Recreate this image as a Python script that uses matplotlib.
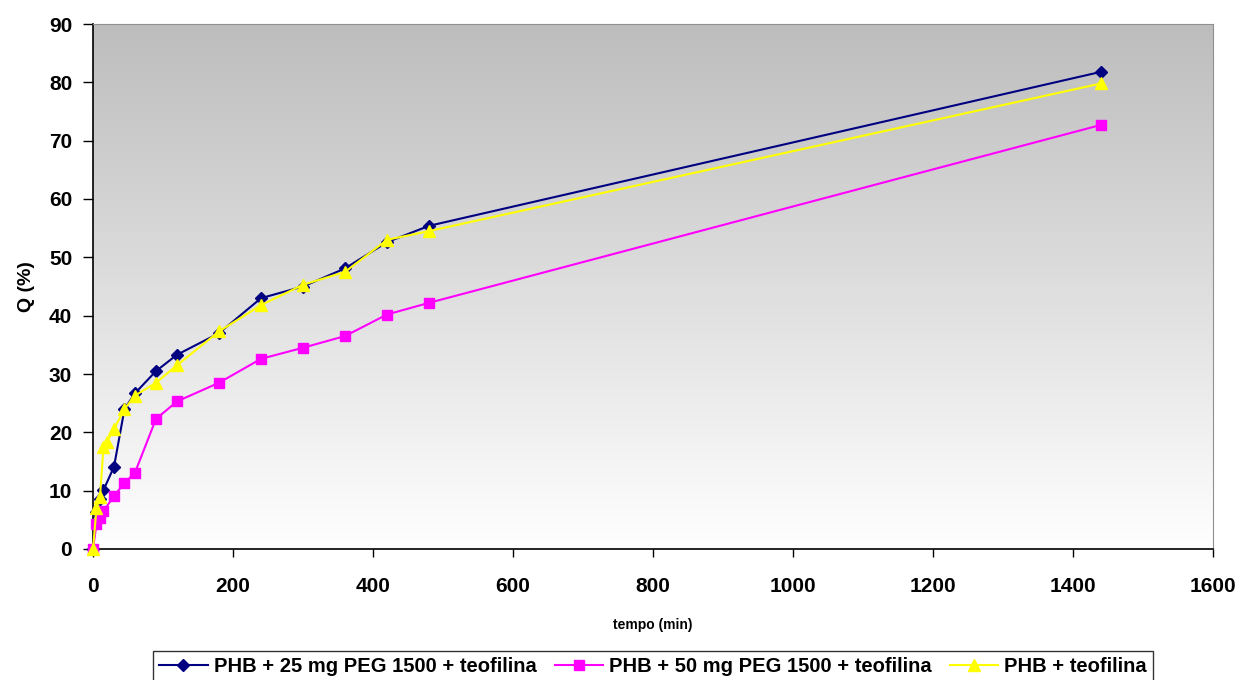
import matplotlib
matplotlib.use("Agg")
import matplotlib.pyplot as plt
import numpy as np

plt.rcParams["font.family"] = ["Liberation Sans", "DejaVu Sans"]

# data
tBlue = [0, 5, 10, 15, 30, 45, 60, 90, 120, 180, 240, 300, 360, 420, 480, 1440]
qBlue = [0, 6.4, 8.6, 10.1, 14.1, 24.0, 26.7, 30.5, 33.3, 37.0, 43.0, 45.0, 48.1, 52.6, 55.4, 81.8]

tPink = [0, 5, 10, 15, 30, 45, 60, 90, 120, 180, 240, 300, 360, 420, 480, 1440]
qPink = [0, 4.3, 5.3, 6.5, 9.1, 11.3, 13.1, 22.3, 25.3, 28.5, 32.6, 34.5, 36.5, 40.2, 42.2, 72.7]

tYellow = [0, 5, 10, 15, 20, 30, 45, 60, 90, 120, 180, 240, 300, 360, 420, 480, 1440]
qYellow = [0, 7.0, 9.0, 17.5, 18.4, 20.6, 24.0, 26.3, 28.5, 31.5, 37.3, 41.8, 45.3, 47.5, 53.0, 54.5, 79.8]

labels = ["PHB + 25 mg PEG 1500 + teofilina",
          "PHB + 50 mg PEG 1500 + teofilina",
          "PHB + teofilina"]

fig = plt.figure(figsize=(12.41, 6.8), dpi=100)
ax = fig.add_axes([93/1241, 1-549/680, 1120/1241, 525/680])

# gradient background (gray top -> white bottom)
grad = np.linspace(1.0, 0.0, 256).reshape(-1, 1)
ax.imshow(grad, cmap=matplotlib.colors.LinearSegmentedColormap.from_list("g", ["#ffffff", "#bdbdbd"]),
          extent=[0, 1600, 0, 90], aspect="auto", zorder=0, origin="upper")

ax.plot(tBlue, qBlue, color="#000080", marker="D", markersize=6, linewidth=1.5, label=labels[0], zorder=3, clip_on=False)
ax.plot(tPink, qPink, color="#FF00FF", marker="s", markersize=7, linewidth=1.5, label=labels[1], zorder=3, clip_on=False)
ax.plot(tYellow, qYellow, color="#FFFF00", marker="^", markersize=8, linewidth=1.5, label=labels[2], zorder=4, clip_on=False)

ax.set_xlim(0, 1600); ax.set_ylim(0, 90)
ax.set_xticks(range(0, 1601, 200)); ax.set_yticks(range(0, 91, 10))
ax.tick_params(axis="x", direction="out", length=6, width=1, labelsize=15, pad=14)
ax.tick_params(axis="y", direction="out", length=7, width=1, labelsize=15, pad=8)
for lbl in ax.get_xticklabels() + ax.get_yticklabels():
    lbl.set_fontweight("bold")
for s in ["top", "right"]:
    ax.spines[s].set_color("#909090")
    ax.spines[s].set_linewidth(0.8)
for s in ["left", "bottom"]:
    ax.spines[s].set_linewidth(1.2)

ax.set_xlabel("tempo (min)", fontsize=10, fontweight="bold", labelpad=16)
ax.set_ylabel("Q (%)", fontsize=14, fontweight="bold", labelpad=10)

leg = fig.legend(loc="center", bbox_to_anchor=(653/1241, 1-667/680), ncol=3,
                 prop={"weight": "bold", "size": 14.5}, frameon=True, fancybox=False,
                 handlelength=2.4, handletextpad=0.3, columnspacing=0.9, borderpad=0.3)
leg.get_frame().set_edgecolor("black")
leg.get_frame().set_linewidth(1.0)

fig.savefig("out.png", dpi=100)
